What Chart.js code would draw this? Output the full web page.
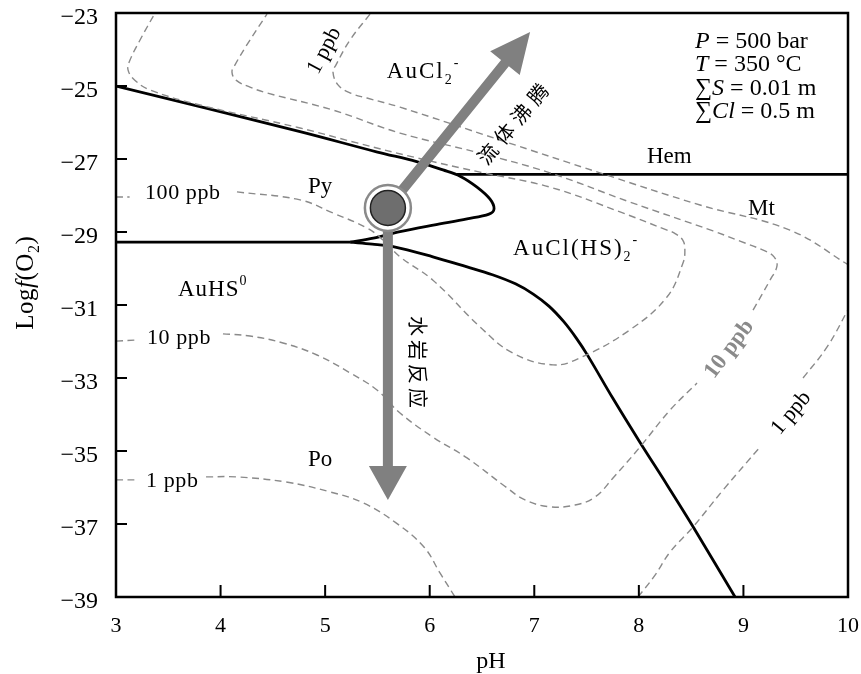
<!DOCTYPE html>
<html>
<head>
<meta charset="utf-8">
<script src="https://cdn.jsdelivr.net/npm/chart.js@4.4.1/dist/chart.umd.min.js"></script>
<style>
  html, body { margin: 0; padding: 0; background: #fff; }
  canvas { display: block; }
</style>
</head>
<body>
<canvas id="c" width="861" height="674"></canvas>
<script>
const xTicks = [3, 4, 5, 6, 7, 8, 9, 10];
const yTicks = [-23, -25, -27, -29, -31, -33, -35, -37, -39];

// solid phase boundaries
const pyTopPH  = [3.0, 4.76, 5.5, 5.875, 6.127, 6.29, 6.452, 6.577, 6.615, 6.567, 6.357, 6.034, 5.716, 5.461, 5.24];
const pyTopLog = [-25.0, -26.25, -26.81, -27.07, -27.30, -27.47, -27.77, -28.10, -28.37, -28.51, -28.64, -28.81, -28.99, -29.17, -29.28];
const pyBasePH  = [3, 5.24];
const pyBaseLog = [-29.28, -29.28];
const hemMtPH  = [6.26, 10];
const hemMtLog = [-27.42, -27.42];
const poPH  = [5.24, 5.45, 5.65, 6.03, 6.35, 6.60, 6.82, 6.99, 7.14, 7.28, 7.40, 7.51, 7.75, 8.01, 8.27, 8.52, 8.92];
const poLog = [-29.28, -29.33, -29.40, -29.68, -29.95, -30.17, -30.42, -30.70, -31.03, -31.45, -31.90, -32.38, -33.55, -34.76, -35.93, -37.08, -39.0];

// gold solubility contours (dashed)
const c100StubPH  = [3, 3.13];
const c100StubLog = [-28.04, -28.04];
const c100PH  = [4.157, 4.76, 5.075, 5.40, 5.553, 5.716, 6.031, 6.481, 6.796, 7.179, 7.437, 7.915, 8.269, 8.422, 8.44, 8.42, 8.34, 8.27, 7.82, 7.150, 6.481, 5.878, 5.305, 4.76, 3.803, 3.325, 3.18, 3.115, 3.134, 3.23, 3.373];
const c100Log = [-27.90, -28.12, -28.48, -28.89, -29.22, -29.68, -30.32, -31.60, -32.32, -32.64, -32.45, -31.68, -30.78, -29.85, -29.49, -29.22, -29.03, -28.95, -28.45, -27.77, -27.36, -26.97, -26.56, -26.15, -25.52, -25.11, -24.84, -24.56, -24.29, -23.74, -23.0];

const c10StubPH  = [3, 3.2];
const c10StubLog = [-31.99, -31.96];
const c10LowPH  = [4.023, 4.281, 4.597, 4.922, 5.238, 5.496, 5.716, 6.031, 6.357, 6.730, 6.911, 7.150, 7.39, 7.581, 7.753, 8.011, 8.298, 8.556];
const c10LowLog = [-31.79, -31.85, -32.04, -32.37, -32.86, -33.33, -33.96, -34.62, -35.19, -35.99, -36.34, -36.53, -36.48, -36.26, -35.74, -34.89, -33.88, -33.14];
const c10UpPH  = [9.092, 9.254, 9.321, 9.293, 9.206, 8.967, 8.709, 7.915, 7.150, 6.481, 5.716, 5.075, 4.444, 4.281, 4.148, 4.109, 4.138, 4.281, 4.444];
const c10UpLog = [-31.14, -30.32, -29.93, -29.68, -29.52, -29.25, -28.97, -28.18, -27.38, -26.84, -26.29, -25.66, -25.19, -25.03, -24.84, -24.62, -24.42, -23.74, -23.03];

const c1TopPH  = [5.429, 5.238, 5.104, 5.075, 5.123, 5.238, 5.40, 5.716, 6.672, 7.628, 8.585, 9.445, 10.02];
const c1TopLog = [-23.03, -23.74, -24.42, -24.62, -24.97, -25.19, -25.33, -25.58, -26.48, -27.38, -28.26, -28.95, -29.93];
const c1RightLowPH  = [7.992, 8.155, 8.298, 8.518, 8.805, 9.159];
const c1RightLowLog = [-39.0, -38.40, -37.77, -37.08, -36.07, -34.89];
const c1RightUpPH  = [9.570, 9.80, 10.01];
const c1RightUpLog = [-33.0, -32.15, -31.08];
const c1StubPH  = [3, 3.2];
const c1StubLog = [-35.79, -35.79];
const c1LeftPH  = [3.861, 4.157, 4.626, 5.046, 5.362, 5.678, 5.945, 6.098, 6.242];
const c1LeftLog = [-35.71, -35.71, -35.85, -36.12, -36.42, -36.97, -37.63, -38.34, -39.0];

// fluid evolution: starting point and arrow tips
const startPoint = { ph: 5.60, lg: -28.34 };
const boilingTip = { ph: 6.96, lg: -23.52 };
const wallRockTip = { ph: 5.60, lg: -36.34 };

const serif = '"Liberation Serif", "Times New Roman", serif';
const cjk = '"Noto Sans CJK SC", sans-serif';

const annotations = [
  { parts: [['AuCl'], ['2', 'sub'], ['-', 'sup']], ph: 5.59, lg: -24.56, size: 23, spacing: 2 },
  { parts: [['AuCl(HS)'], ['2', 'sub'], ['-', 'sup']], ph: 6.797, lg: -29.41, size: 23, spacing: 2 },
  { parts: [['AuHS'], ['0', 'sup']], ph: 3.593, lg: -30.53, size: 23, spacing: 1 },
  { parts: [['Py']], ph: 4.836, lg: -27.71, size: 23 },
  { parts: [['Po']], ph: 4.836, lg: -35.19, size: 23 },
  { parts: [['Hem']], ph: 8.078, lg: -26.89, size: 23 },
  { parts: [['Mt']], ph: 9.044, lg: -28.32, size: 23 },
  { parts: [['100 ppb']], ph: 3.277, lg: -27.90, size: 22, spacing: 0.6 },
  { parts: [['10 ppb']], ph: 3.296, lg: -31.85, size: 22, spacing: 0.6 },
  { parts: [['1 ppb']], ph: 3.287, lg: -35.77, size: 22, spacing: 0.6 },
  { parts: [['1 ppb']], ph: 4.98, lg: -24.01, size: 22, rot: -62, align: 'center' },
  { parts: [['10 ppb']], ph: 8.853, lg: -32.18, size: 23, rot: -53, align: 'center', weight: 'bold', color: '#8a8a8a' },
  { parts: [['1 ppb']], ph: 9.445, lg: -33.93, size: 22, rot: -50, align: 'center' },
  { parts: [['P', 'i'], [' = 500 bar']], ph: 8.537, lg: -23.74, size: 24 },
  { parts: [['T', 'i'], [' = 350 °C']], ph: 8.537, lg: -24.37, size: 24 },
  { parts: [['∑'], ['S', 'i'], [' = 0.01 m']], ph: 8.537, lg: -25.03, size: 24 },
  { parts: [['∑'], ['Cl', 'i'], [' = 0.5 m']], ph: 8.537, lg: -25.66, size: 24 },
  { parts: [['流体沸腾', 'cjk']], ph: 6.80, lg: -26.05, size: 20, rot: -50, align: 'center', spacing: 6 },
  { parts: [['水岩反应', 'cjk']], ph: 5.878, lg: -32.56, size: 20, rot: 90, align: 'center', spacing: 4 }
];

function seg(ph, lg) { return ph.map((x, i) => ({ x: x, y: lg[i] })); }
function solid(ph, lg) {
  return { data: seg(ph, lg), showLine: true, borderColor: '#000', borderWidth: 2.8,
           pointRadius: 0, tension: 0.35, fill: false, borderJoinStyle: 'round' };
}
function dashed(ph, lg) {
  return { data: seg(ph, lg), showLine: true, borderColor: '#8a8a8a', borderWidth: 1.4,
           borderDash: [7, 4.5], pointRadius: 0, tension: 0.4, fill: false };
}

function drawParts(ctx, parts, size, weight, spacing, x0, yBase, measureOnly) {
  let x = x0;
  const sp = spacing || 0;
  for (const [t, k] of parts) {
    const small = k === 'sub' || k === 'sup';
    const fs = small ? Math.round(size * 0.62) : size;
    ctx.font = (k === 'i' ? 'italic ' : '') + (weight || 'normal') + ' ' + fs + 'px ' + (k === 'cjk' ? cjk : serif);
    const dy = k === 'sub' ? size * 0.25 : k === 'sup' ? -size * 0.45 : 0;
    for (const ch of t) {
      if (!measureOnly) ctx.fillText(ch, x, yBase + dy);
      x += ctx.measureText(ch).width + sp;
    }
  }
  return x - x0 - sp;
}

function drawArrow(ctx, x1, y1, x2, y2, shaftW, headL, headW) {
  const dx = x2 - x1, dy = y2 - y1, len = Math.hypot(dx, dy);
  const ux = dx / len, uy = dy / len, nx = -uy, ny = ux;
  const bx = x2 - ux * headL, by = y2 - uy * headL;
  ctx.beginPath();
  ctx.moveTo(x1 + nx * shaftW / 2, y1 + ny * shaftW / 2);
  ctx.lineTo(bx + nx * shaftW / 2, by + ny * shaftW / 2);
  ctx.lineTo(bx + nx * headW / 2, by + ny * headW / 2);
  ctx.lineTo(x2, y2);
  ctx.lineTo(bx - nx * headW / 2, by - ny * headW / 2);
  ctx.lineTo(bx - nx * shaftW / 2, by - ny * shaftW / 2);
  ctx.lineTo(x1 - nx * shaftW / 2, y1 - ny * shaftW / 2);
  ctx.closePath();
  ctx.fill();
}

const decorations = {
  id: 'decorations',
  afterDatasetsDraw(chart) {
    const ctx = chart.ctx, xs = chart.scales.x, ys = chart.scales.y;
    ctx.save();
    // arrows and starting circle
    const sx = xs.getPixelForValue(startPoint.ph), sy = ys.getPixelForValue(startPoint.lg);
    ctx.fillStyle = '#808080';
    drawArrow(ctx, sx, sy, xs.getPixelForValue(boilingTip.ph), ys.getPixelForValue(boilingTip.lg), 10, 40, 38);
    drawArrow(ctx, sx, sy, xs.getPixelForValue(wallRockTip.ph), ys.getPixelForValue(wallRockTip.lg), 10, 34, 38);
    ctx.beginPath();
    ctx.arc(sx, sy, 23, 0, Math.PI * 2);
    ctx.fillStyle = '#fff';
    ctx.fill();
    ctx.lineWidth = 2.5;
    ctx.strokeStyle = '#8a8a8a';
    ctx.stroke();
    ctx.beginPath();
    ctx.arc(sx, sy, 17.5, 0, Math.PI * 2);
    ctx.fillStyle = '#6e6e6e';
    ctx.fill();
    ctx.lineWidth = 1.5;
    ctx.strokeStyle = '#222';
    ctx.stroke();

    // text labels
    ctx.textBaseline = 'alphabetic';
    ctx.textAlign = 'left';
    for (const a of annotations) {
      ctx.save();
      ctx.translate(xs.getPixelForValue(a.ph), ys.getPixelForValue(a.lg));
      ctx.rotate((a.rot || 0) * Math.PI / 180);
      ctx.fillStyle = a.color || '#000';
      const w = drawParts(ctx, a.parts, a.size, a.weight, a.spacing, 0, 0, true);
      const x0 = a.align === 'center' ? -w / 2 : 0;
      drawParts(ctx, a.parts, a.size, a.weight, a.spacing, x0, a.size * 0.34, false);
      ctx.restore();
    }
    ctx.restore();
  },
  afterDraw(chart) {
    const ctx = chart.ctx, xs = chart.scales.x, ys = chart.scales.y;
    const { left, right, top, bottom } = chart.chartArea;
    ctx.save();
    ctx.strokeStyle = '#000';
    ctx.lineWidth = 2.5;
    ctx.strokeRect(left, top, right - left, bottom - top);
    ctx.lineWidth = 2;
    ctx.beginPath();
    for (const v of xTicks) {
      const p = xs.getPixelForValue(v);
      ctx.moveTo(p, bottom);
      ctx.lineTo(p, bottom - 12);
    }
    for (const v of yTicks) {
      const p = ys.getPixelForValue(v);
      ctx.moveTo(left, p);
      ctx.lineTo(left + 11, p);
    }
    ctx.stroke();

    // axis titles
    ctx.fillStyle = '#000';
    ctx.textBaseline = 'alphabetic';
    ctx.font = '24px ' + serif;
    ctx.textAlign = 'center';
    ctx.fillText('pH', (left + right) / 2 + 9, 668);
    ctx.textAlign = 'left';
    ctx.translate(25, 283);
    ctx.rotate(-Math.PI / 2);
    const yTitle = [['Log'], ['f', 'i'], ['(O'], ['2', 'sub'], [')']];
    const w = drawParts(ctx, yTitle, 25, 'normal', 0.5, 0, 0, true);
    drawParts(ctx, yTitle, 25, 'normal', 0.5, -w / 2, 8, false);
    ctx.restore();
  }
};

new Chart(document.getElementById('c'), {
  type: 'scatter',
  data: {
    datasets: [
      dashed(c100StubPH, c100StubLog),
      dashed(c100PH, c100Log),
      dashed(c10StubPH, c10StubLog),
      dashed(c10LowPH, c10LowLog),
      dashed(c10UpPH, c10UpLog),
      dashed(c1TopPH, c1TopLog),
      dashed(c1RightLowPH, c1RightLowLog),
      dashed(c1RightUpPH, c1RightUpLog),
      dashed(c1StubPH, c1StubLog),
      dashed(c1LeftPH, c1LeftLog),
      solid(pyTopPH, pyTopLog),
      solid(pyBasePH, pyBaseLog),
      solid(hemMtPH, hemMtLog),
      solid(poPH, poLog)
    ]
  },
  options: {
    responsive: false,
    animation: false,
    layout: { padding: { top: 13, right: 13, left: 0, bottom: 0 } },
    plugins: { legend: { display: false }, tooltip: { enabled: false } },
    scales: {
      x: {
        type: 'linear', min: 3, max: 10,
        grid: { display: false, drawTicks: false, tickLength: 0 },
        border: { display: false },
        afterBuildTicks: s => { s.ticks = xTicks.map(v => ({ value: v })); },
        afterFit: s => { s.height = 77; s.paddingLeft = 0; s.paddingRight = 0; },
        ticks: { color: '#000', padding: 16, autoSkip: false, maxRotation: 0,
                 font: { family: serif, size: 22 } }
      },
      y: {
        type: 'linear', min: -39, max: -23,
        grid: { display: false, drawTicks: false, tickLength: 0 },
        border: { display: false },
        afterBuildTicks: s => { s.ticks = yTicks.map(v => ({ value: v })); },
        afterFit: s => { s.width = 116; s.paddingTop = 0; s.paddingBottom = 0; },
        ticks: { color: '#000', padding: 18, autoSkip: false, labelOffset: 5,
                 font: { family: serif, size: 24 },
                 callback: v => String(v).replace('-', '\u2212') }
      }
    }
  },
  plugins: [decorations]
});
</script>
</body>
</html>
